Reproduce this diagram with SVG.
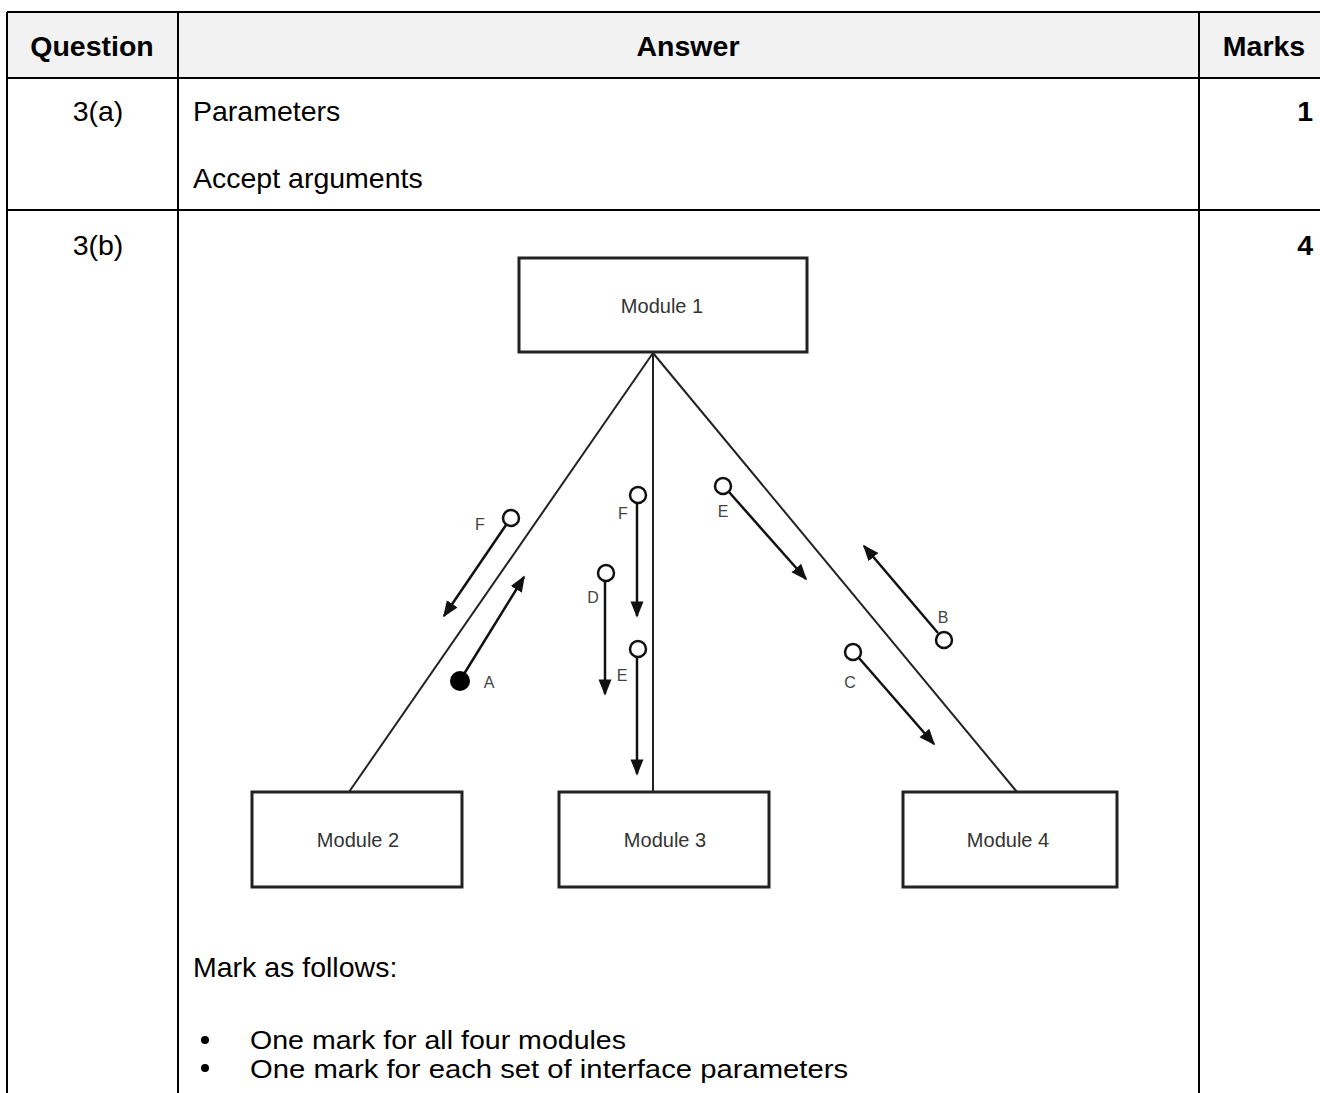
<svg xmlns="http://www.w3.org/2000/svg" width="1320" height="1093" viewBox="0 0 1320 1093">
<style>
.t{font-family:"Liberation Sans",Arial,sans-serif;font-size:28.5px;fill:#000}
.s{font-family:"Liberation Sans",Arial,sans-serif;font-size:26px;fill:#000}
.b{font-weight:bold}
.grid{stroke:#000;stroke-width:2;fill:none}
.box{fill:#fff;stroke:#222;stroke-width:3}
.ml{font-family:"Liberation Sans",Arial,sans-serif;font-size:20px;fill:#333;text-anchor:middle}
.lab{font-family:"Liberation Sans",Arial,sans-serif;font-size:16px;fill:#444;text-anchor:middle}
.ln{stroke:#222;stroke-width:2;fill:none}
.ar{stroke:#111;stroke-width:2.5;fill:none;marker-end:url(#ah)}
.oc{fill:#fff;stroke:#111;stroke-width:2.5}
</style>
<defs>
<marker id="ah" viewBox="0 0 10 10" refX="9" refY="5" markerWidth="6.5" markerHeight="6.5" markerUnits="strokeWidth" orient="auto">
<path d="M0,1 L10,5 L0,9 Z" fill="#111"/>
</marker>
</defs>
<rect width="1320" height="1093" fill="#fff"/>
<g id="table">
<rect x="7" y="12" width="1313" height="66" fill="#f2f2f2"/>
<line class="grid" x1="7" y1="12" x2="1320" y2="12"/>
<line class="grid" x1="7" y1="78" x2="1320" y2="78"/>
<line class="grid" x1="7" y1="210" x2="1320" y2="210"/>
<line class="grid" x1="7" y1="12" x2="7" y2="1093"/>
<line class="grid" x1="178" y1="12" x2="178" y2="1093"/>
<line class="grid" x1="1199" y1="12" x2="1199" y2="1093"/>
<text class="t b" x="92" y="56" text-anchor="middle">Question</text>
<text class="t b" x="688" y="56" text-anchor="middle">Answer</text>
<text class="t b" x="1264" y="56" text-anchor="middle">Marks</text>
<text class="t" x="98" y="121" text-anchor="middle">3(a)</text>
<text class="t" x="193" y="121">Parameters</text>
<text class="t" x="193" y="188">Accept arguments</text>
<text class="t b" x="1313" y="121" text-anchor="end">1</text>
<text class="t" x="98" y="255" text-anchor="middle">3(b)</text>
<text class="t b" x="1313" y="255" text-anchor="end">4</text>
<text class="t" x="193" y="977">Mark as follows:</text>
<circle cx="205" cy="1040" r="4" fill="#000"/>
<text class="s" x="250" y="1049" textLength="376" lengthAdjust="spacingAndGlyphs">One mark for all four modules</text>
<circle cx="205" cy="1068" r="4" fill="#000"/>
<text class="s" x="250" y="1078" textLength="598" lengthAdjust="spacingAndGlyphs">One mark for each set of interface parameters</text>
</g>
<g id="connectors">
<line class="ln" x1="653" y1="353" x2="349" y2="792"/>
<line class="ln" x1="653" y1="353" x2="653" y2="792"/>
<line class="ln" x1="653" y1="353" x2="1017" y2="792"/>
</g>
<g id="module1"><rect class="box" x="519" y="258" width="288" height="94"/><text class="ml" x="662" y="313">Module 1</text></g>
<g id="module2"><rect class="box" x="252" y="792" width="210" height="95"/><text class="ml" x="358" y="847">Module 2</text></g>
<g id="module3"><rect class="box" x="559" y="792" width="210" height="95"/><text class="ml" x="665" y="847">Module 3</text></g>
<g id="module4"><rect class="box" x="903" y="792" width="214" height="95"/><text class="ml" x="1008" y="847">Module 4</text></g>
<g id="param-F-left">
<line class="ar" x1="506" y1="525" x2="444" y2="616"/>
<circle class="oc" cx="511" cy="518" r="8"/>
<text class="lab" x="480" y="530">F</text>
</g>
<g id="param-A">
<line class="ar" x1="464" y1="674" x2="524" y2="577"/>
<circle cx="460" cy="681" r="10" fill="#000"/>
<text class="lab" x="489" y="688">A</text>
</g>
<g id="param-F-mid">
<line class="ar" x1="637" y1="503" x2="637" y2="616"/>
<circle class="oc" cx="638" cy="495" r="8"/>
<text class="lab" x="623" y="519">F</text>
</g>
<g id="param-D">
<line class="ar" x1="605" y1="581" x2="605" y2="694"/>
<circle class="oc" cx="606" cy="573" r="8"/>
<text class="lab" x="593" y="603">D</text>
</g>
<g id="param-E-mid">
<line class="ar" x1="637" y1="657" x2="637" y2="774"/>
<circle class="oc" cx="638" cy="649" r="8"/>
<text class="lab" x="622" y="681">E</text>
</g>
<g id="param-E-right">
<line class="ar" x1="729" y1="492" x2="806" y2="579"/>
<circle class="oc" cx="723" cy="486" r="8"/>
<text class="lab" x="723" y="517">E</text>
</g>
<g id="param-B">
<line class="ar" x1="938" y1="633" x2="864" y2="546"/>
<circle class="oc" cx="944" cy="640" r="8"/>
<text class="lab" x="943" y="623">B</text>
</g>
<g id="param-C">
<line class="ar" x1="859" y1="658" x2="934" y2="744"/>
<circle class="oc" cx="853" cy="652" r="8"/>
<text class="lab" x="850" y="688">C</text>
</g>
</svg>
